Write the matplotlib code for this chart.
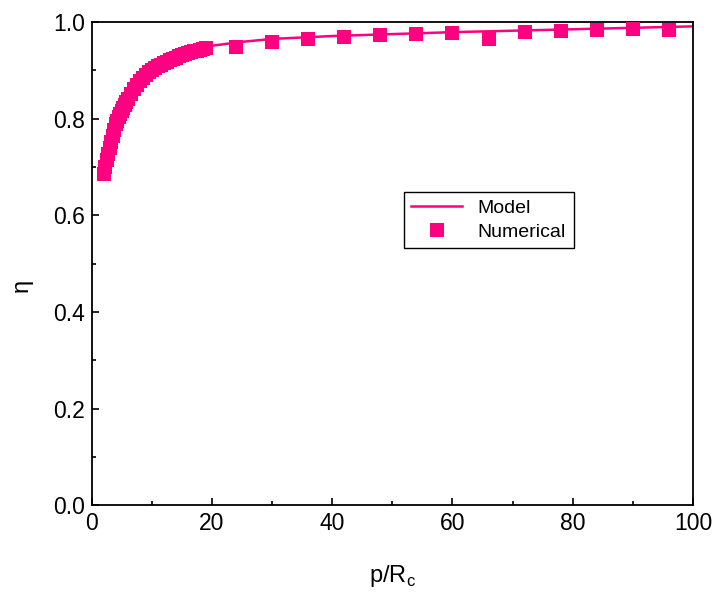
import matplotlib
matplotlib.use("Agg")
import matplotlib.pyplot as plt
from matplotlib.ticker import MultipleLocator

pink = "#FF0080"

# numerical results (dense part + coarse tail)
num_x = [2.0, 2.25, 2.5, 2.75, 3.0, 3.25, 3.5, 3.75, 4.0, 4.25, 4.5, 4.75,
         5.0, 5.25, 5.5, 5.75, 6.0, 6.5, 7.0, 7.5, 8.0, 8.5,
         9.0, 9.5, 10.0, 10.5, 11.0, 11.5, 12.0, 12.5, 13.0, 13.5, 14.0, 14.5,
         15.0, 15.5, 16.0, 16.5, 17.0, 17.5, 18.0, 18.5, 19.0,
         24, 30, 36, 42, 48, 54, 60, 66, 72, 78, 84, 90, 96]
num_eta = [0.686, 0.700, 0.714, 0.727, 0.740, 0.752, 0.765, 0.777, 0.789, 0.796,
           0.803, 0.810, 0.816, 0.823, 0.829, 0.835, 0.840, 0.851,
           0.861, 0.870, 0.878, 0.885, 0.891, 0.896, 0.900, 0.904, 0.908, 0.912,
           0.915, 0.918, 0.921, 0.924, 0.926, 0.929, 0.931, 0.933, 0.935, 0.937,
           0.939, 0.941, 0.943, 0.944, 0.946,
           0.949, 0.958, 0.965, 0.968, 0.973, 0.975, 0.977, 0.965, 0.980, 0.982,
           0.983, 0.985, 0.983]

# model curve
model_x = [2.0, 2.5, 3.0, 4.0, 5.0, 6.0, 7.0, 8.0, 10.0, 12.0, 14.0, 16.0, 18.0,
           20, 25, 30, 40, 50, 60, 70, 80, 90, 100]
model_eta = [0.688, 0.716, 0.742, 0.790, 0.817, 0.841, 0.862, 0.879, 0.901, 0.916,
             0.927, 0.936, 0.944, 0.951, 0.959, 0.965, 0.971, 0.975, 0.979, 0.982,
             0.985, 0.988, 0.991]

plt.rcParams["font.family"] = ["Liberation Sans", "DejaVu Sans"]

fig = plt.figure(figsize=(7.17, 5.95), dpi=100)
ax = fig.add_axes([0.128, 0.151, 0.8385, 0.812])

ax.plot(model_x, model_eta, color=pink, linewidth=1.8, label="Model", zorder=2)
ax.plot(num_x, num_eta, linestyle="none", marker="s", markersize=9.5,
        color=pink, markeredgewidth=0, label="Numerical", zorder=3)

ax.set_xlim(0, 100)
ax.set_ylim(0.0, 1.0)
ax.xaxis.set_major_locator(MultipleLocator(20))
ax.xaxis.set_minor_locator(MultipleLocator(10))
ax.yaxis.set_major_locator(MultipleLocator(0.2))
ax.yaxis.set_minor_locator(MultipleLocator(0.1))
ax.set_yticklabels([f"{v:.1f}" for v in ax.get_yticks()])
ax.tick_params(axis="both", which="both", direction="in", top=False, right=False,
               labelsize=16.5, width=1.2)
ax.tick_params(which="major", length=5, pad=5)
ax.tick_params(which="minor", length=3)
for sp in ax.spines.values():
    sp.set_linewidth(1.3)

ax.set_xlabel("p/R$_\\mathregular{c}$", fontsize=17, labelpad=20)
ax.set_ylabel("\u03b7", fontsize=17)
ax.yaxis.set_label_coords(-0.098, 0.455)

leg = ax.legend(loc="center", bbox_to_anchor=(0.66, 0.59), fontsize=14,
                fancybox=False, edgecolor="black", framealpha=1,
                handlelength=2.6, borderpad=0.4, labelspacing=0.3)
leg.get_frame().set_linewidth(1.0)

fig.savefig("out.png", dpi=100)
